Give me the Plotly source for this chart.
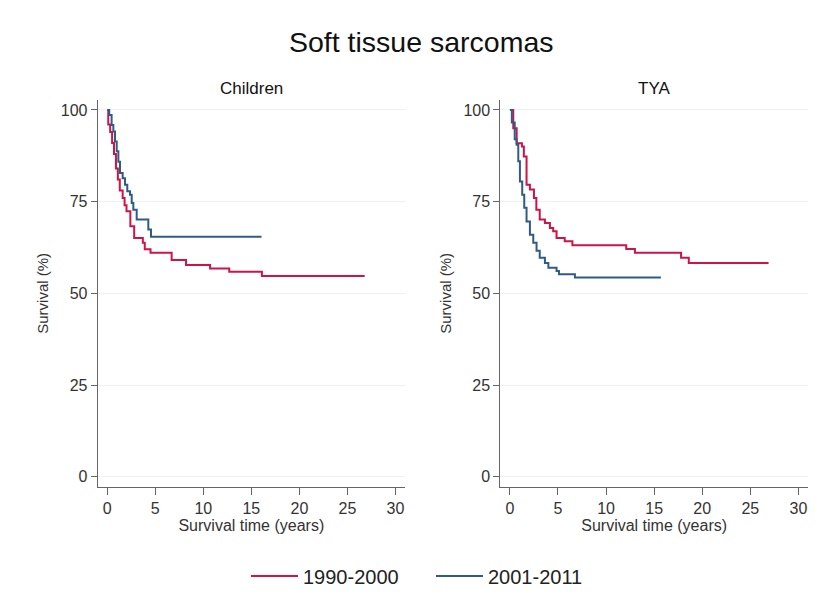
import plotly.graph_objects as go

# Kaplan-Meier survival estimates (%), step values hold from each time onward
child_9000_t = [0, 0.1, 0.3, 0.5, 0.7, 0.9, 1.1, 1.3, 1.6, 1.8, 2.0, 2.4, 2.8, 3.7, 3.9, 4.5, 6.7, 8.2, 10.7, 12.7, 16.1, 26.8]
child_9000_s = [100, 96, 94, 91, 88, 84, 81, 78, 76, 74, 72.4, 68.3, 65.1, 63.8, 62.0, 61.1, 59.1, 57.7, 56.8, 55.9, 54.7, 54.7]

child_0111_t = [0, 0.2, 0.45, 0.63, 0.8, 0.98, 1.15, 1.32, 1.6, 1.84, 2.08, 2.36, 2.54, 2.71, 3.06, 4.27, 4.55, 16.06]
child_0111_s = [100, 98.6, 95.9, 94.1, 91.4, 88.7, 85.9, 82.8, 81.4, 79.6, 77.8, 76.9, 74.6, 72.8, 70.1, 67.4, 65.4, 65.4]

tya_9000_t = [0, 0.35, 0.7, 1.25, 1.45, 1.73, 2.08, 2.5, 2.75, 3.1, 3.64, 4.16, 4.5, 4.85, 5.7, 6.5, 12.1, 13.0, 17.8, 18.6, 26.9]
tya_9000_s = [100, 95, 90.9, 90.0, 87.3, 79.6, 78.3, 76, 72.8, 70.1, 69.2, 67.8, 66.9, 65.1, 64.2, 63.1, 62.1, 61.1, 59.7, 58.3, 58.3]

tya_0111_t = [0, 0.2, 0.5, 0.7, 0.87, 1.04, 1.28, 1.49, 1.73, 2.08, 2.43, 2.77, 3.1, 3.64, 4.0, 4.85, 5.1, 6.76, 15.7]
tya_0111_s = [100, 96.6, 92, 90.5, 86, 80.5, 76.9, 73.3, 69.6, 66, 63.8, 61.6, 59.7, 58.3, 57, 56.1, 55.2, 54.3, 54.3]

period_labels = ["1990-2000", "2001-2011"]
panel_titles = ["Children", "TYA"]
x_ticks = [0, 5, 10, 15, 20, 25, 30]
y_ticks = [0, 25, 50, 75, 100]

RED = "#cc1447"
BLUE = "#2f5b87"
FONT = "Liberation Sans, Arial, sans-serif"

fig = go.Figure()

panels = [
    ("x", "y", child_9000_t, child_9000_s, child_0111_t, child_0111_s, True),
    ("x2", "y2", tya_9000_t, tya_9000_s, tya_0111_t, tya_0111_s, False),
]
for xa, ya, t1, s1, t2, s2, show in panels:
    fig.add_trace(go.Scatter(x=t1, y=s1, mode="lines", line=dict(color=RED, width=2, shape="hv"),
                             name=period_labels[0], showlegend=show, xaxis=xa, yaxis=ya))
    fig.add_trace(go.Scatter(x=t2, y=s2, mode="lines", line=dict(color=BLUE, width=2, shape="hv"),
                             name=period_labels[1], showlegend=show, xaxis=xa, yaxis=ya))

W, H = 826, 608
y_dom = [1 - 486.7 / H, 1 - 100 / H]
x_doms = [[97.7 / W, 405 / W], [500.3 / W, 808 / W]]

xaxis_common = dict(range=[-1, 31], tickvals=x_ticks, showline=True, linecolor="#666666", linewidth=1,
                    ticks="outside", ticklen=7, tickcolor="#666666", showgrid=False, zeroline=False,
                    tickfont=dict(size=16, color="#333333", family=FONT),
                    title=dict(text="Survival time (years)", font=dict(size=16, color="#333333", family=FONT), standoff=2))
yaxis_common = dict(range=[-2.7, 102.7], tickvals=y_ticks, showline=True, linecolor="#666666", linewidth=1,
                    ticks="outside", ticklen=6, tickcolor="#666666", showgrid=True, gridcolor="#eef0f2",
                    gridwidth=1, zeroline=False,
                    tickfont=dict(size=16, color="#333333", family=FONT),
                    title=dict(text="Survival (%)", font=dict(size=15, color="#333333", family=FONT), standoff=8))

fig.update_layout(
    width=W, height=H,
    margin=dict(l=0, r=0, t=0, b=0),
    paper_bgcolor="white", plot_bgcolor="white",
    font=dict(family=FONT, color="#222222"),
    xaxis=dict(domain=x_doms[0], anchor="y", **xaxis_common),
    yaxis=dict(domain=y_dom, anchor="x", **yaxis_common),
    xaxis2=dict(domain=x_doms[1], anchor="y2", **xaxis_common),
    yaxis2=dict(domain=y_dom, anchor="x2", **yaxis_common),
    legend=dict(orientation="h", x=246 / W, xanchor="left", y=1 - 576 / H, yanchor="middle",
                font=dict(size=20, color="#222222", family=FONT), itemwidth=47, traceorder="normal",
                entrywidth=123, entrywidthmode="pixels"),
    showlegend=True,
)

fig.add_annotation(text="Soft tissue sarcomas", x=421 / W, y=1 - 42 / H, xref="paper", yref="paper",
                   showarrow=False, xanchor="center", yanchor="middle",
                   font=dict(size=28.5, color="#111111", family=FONT))
for title, dom in zip(panel_titles, x_doms):
    fig.add_annotation(text=title, x=(dom[0] + dom[1]) / 2, y=1 - 88 / H, xref="paper", yref="paper",
                       showarrow=False, xanchor="center", yanchor="middle",
                       font=dict(size=17, color="#111111", family=FONT))

fig.write_html("out.html")
